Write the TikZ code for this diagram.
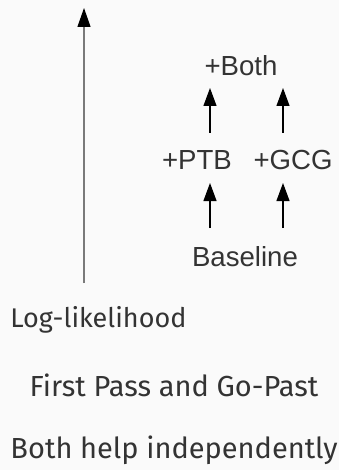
\documentclass[tikz,border=0pt]{standalone}
\usepackage{fontspec}
\setmainfont{Fira Sans}
\newfontfamily\labelfont{Liberation Sans}
\usepackage{xcolor}
\usetikzlibrary{arrows.meta, positioning, calc}

\definecolor{bgpaper}{HTML}{FAFAFA}
\definecolor{inkgray}{HTML}{333333}
\definecolor{axisgray}{HTML}{7A7A7A}

\begin{document}
\begin{tikzpicture}[
  x=0.5pt,
  y=-0.5pt,
  modelnode/.style={
    font=\labelfont\fontsize{13.8}{16}\selectfont,
    text=inkgray,
    inner sep=0pt
  },
  captionnode/.style={
    font=\fontsize{14.5}{17}\selectfont,
    text=inkgray,
    inner sep=0pt
  },
  flowarrow/.style={
    -{Triangle[length=9pt,width=6.5pt]},
    line width=0.6pt,
    draw=black
  },
  axisarrow/.style={
    -{Triangle[length=9.5pt,width=6.5pt,color=black]},
    line width=0.6pt,
    draw=axisgray
  }
]

\fill[bgpaper] (0,0) rectangle (339,470);
\useasboundingbox (0,0) rectangle (339,470);

% vertical axis
\coordinate (axisbot) at (84,283);
\coordinate (axistop) at (84,8);
\draw[axisarrow] (axisbot) -- (axistop);
\node[captionnode, font=\fontsize{13.5}{16}\selectfont, anchor=west] (loglik) at (10,320) {Log-likelihood};

% model comparisons
\node[modelnode] (both) at (241,66) {+Both};
\node[modelnode] (ptb) at (197,160) {+PTB};
\node[modelnode] (gcg) at (293,160) {+GCG};
\node[modelnode] (base) at (245,257) {Baseline};

\coordinate (colL) at (210,0);
\coordinate (colR) at (283,0);

\draw[flowarrow] ($(base.center -| colL)+(0,-29)$) -- ($(ptb.center -| colL)+(0,23)$);
\draw[flowarrow] ($(base.center -| colR)+(0,-29)$) -- ($(gcg.center -| colR)+(0,23)$);
\draw[flowarrow] ($(ptb.center -| colL)+(0,-27)$) -- ($(both.center -| colL)+(0,22)$);
\draw[flowarrow] ($(gcg.center -| colR)+(0,-27)$) -- ($(both.center -| colR)+(0,22)$);

% captions
\node[captionnode] (firstpass) at (174,385) {First Pass and Go-Past};
\node[captionnode] (helps) at (174,450) {Both help independently};

\end{tikzpicture}
\end{document}
